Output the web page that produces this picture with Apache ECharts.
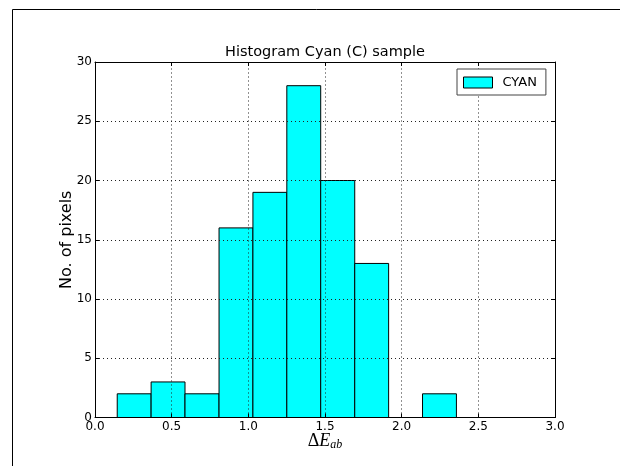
<!DOCTYPE html>
<html>
<head>
<meta charset="utf-8">
<script src="https://cdn.jsdelivr.net/npm/echarts@6/dist/echarts.min.js"></script>
<style>
html,body{margin:0;padding:0;background:#fff;}
#chart{width:620px;height:466px;}
</style>
</head>
<body>
<div id="chart"></div>
<script>
// Histogram bin edges (ΔE_ab) and counts
const binEdges = [0.145, 0.366, 0.587, 0.809, 1.030, 1.251, 1.472, 1.694, 1.915, 2.136, 2.357];
const counts = [2, 3, 2, 16, 19, 28, 20, 13, 0, 2];
const xTicks = [0.0, 0.5, 1.0, 1.5, 2.0, 2.5, 3.0];
const yTicks = [0, 5, 10, 15, 20, 25, 30];
const seriesName = 'CYAN';
const titleText = 'Histogram Cyan (C) sample';
const yLabel = 'No. of pixels';

const binData = counts.map((c, i) => [binEdges[i], binEdges[i + 1], c]);

const chart = echarts.init(document.getElementById('chart'), null, {renderer: 'canvas'});
const FONT = 'DejaVu Sans';
const tick = {show: true, inside: true, length: 4, lineStyle: {color: '#000', width: 1}};
const axLine = {show: true, onZero: false, lineStyle: {color: '#000', width: 1}};

// grid lines drawn above bars (as in the reference) via markLine at the tick values
const gridMarks = []
  .concat(xTicks.slice(1, -1).map(v => ({xAxis: v})))
  .concat(yTicks.slice(1, -1).map(v => ({yAxis: v})));

chart.setOption({
  animation: false,
  backgroundColor: '#fff',
  textStyle: {fontFamily: FONT},
  grid: {left: 95, top: 62, right: 65, bottom: 48.5, show: false},
  legend: {
    left: 457, top: 69, z: 20,
    orient: 'vertical',
    padding: [7, 9, 6, 6],
    backgroundColor: '#fff',
    borderColor: '#444', borderWidth: 1,
    itemWidth: 29, itemHeight: 11, itemGap: 5,
    textStyle: {fontFamily: FONT, fontSize: 13, color: '#000', padding: [0, 0, 0, 5]},
    data: [{name: seriesName, icon: 'rect', itemStyle: {color: '#00ffff', borderColor: '#000', borderWidth: 1}}]
  },
  graphic: [
    {type: 'line', shape: {x1: 12.5, y1: 9.5, x2: 620, y2: 9.5}, style: {stroke: '#000', lineWidth: 1}, z: 10},
    {type: 'line', shape: {x1: 12.5, y1: 9.5, x2: 12.5, y2: 466}, style: {stroke: '#000', lineWidth: 1}, z: 10},
    {type: 'text', x: 325, y: 52, style: {text: titleText, fontFamily: FONT, fontSize: 14.5, fill: '#000', textAlign: 'center', textVerticalAlign: 'middle'}}
  ],
  xAxis: [
    {
      type: 'value', min: 0, max: 3, interval: 0.5, z: 10,
      axisLine: axLine, axisTick: tick, splitLine: {show: false},
      axisLabel: {margin: 3, fontFamily: FONT, fontSize: 12, color: '#000',
        formatter: v => { const t = xTicks.find(k => Math.abs(k - v) < 1e-9); return t === undefined ? '' : t.toFixed(1); }},
      name: '{d|Δ}{e|E}{s|ab}',
      nameLocation: 'middle', nameGap: 14, nameMoveOverlap: false,
      nameTextStyle: {
        rich: {
          d: {fontFamily: 'Liberation Serif', fontSize: 18, color: '#000'},
          e: {fontFamily: 'Liberation Serif', fontStyle: 'italic', fontSize: 18, color: '#000'},
          s: {fontFamily: 'Liberation Serif', fontStyle: 'italic', fontSize: 12, color: '#000', verticalAlign: 'bottom', padding: [7, 0, 0, 0]}
        }
      }
    },
    {
      type: 'value', min: 0, max: 3, interval: 0.5, position: 'top', z: 10,
      axisLine: axLine, axisTick: tick, splitLine: {show: false}, axisLabel: {show: false}
    }
  ],
  yAxis: [
    {
      type: 'value', min: 0, max: 30, interval: 5, z: 10,
      axisLine: axLine, axisTick: tick, splitLine: {show: false},
      axisLabel: {margin: 3, fontFamily: FONT, fontSize: 12, color: '#000',
        formatter: v => { const t = yTicks.find(k => k === v); return t === undefined ? '' : String(t); }},
      name: yLabel, nameLocation: 'middle', nameGap: 20, nameMoveOverlap: false,
      nameTextStyle: {fontFamily: FONT, fontSize: 16, color: '#000'}
    },
    {
      type: 'value', min: 0, max: 30, interval: 5, position: 'right', z: 10,
      axisLine: axLine, axisTick: tick, splitLine: {show: false}, axisLabel: {show: false}
    }
  ],
  series: [{
    name: seriesName,
    type: 'custom',
    xAxisIndex: 0, yAxisIndex: 0,
    z: 1,
    itemStyle: {color: '#00ffff', borderColor: '#000', borderWidth: 1},
    encode: {x: [0, 1], y: 2},
    data: binData,
    renderItem: function (params, api) {
      const x0 = api.value(0), x1 = api.value(1), c = api.value(2);
      const pTop = api.coord([x0, c]);
      const pBot = api.coord([x1, 0]);
      return {
        type: 'rect',
        shape: {x: pTop[0], y: pTop[1], width: pBot[0] - pTop[0], height: pBot[1] - pTop[1]},
        style: {fill: '#00ffff', stroke: '#000', lineWidth: 1}
      };
    },
    markLine: {
      silent: true,
      symbol: ['none', 'none'],
      label: {show: false},
      emphasis: {disabled: true},
      z: 5,
      lineStyle: {color: '#222', width: 1, type: [1, 3], opacity: 1},
      data: gridMarks
    }
  }]
});
</script>
</body>
</html>
